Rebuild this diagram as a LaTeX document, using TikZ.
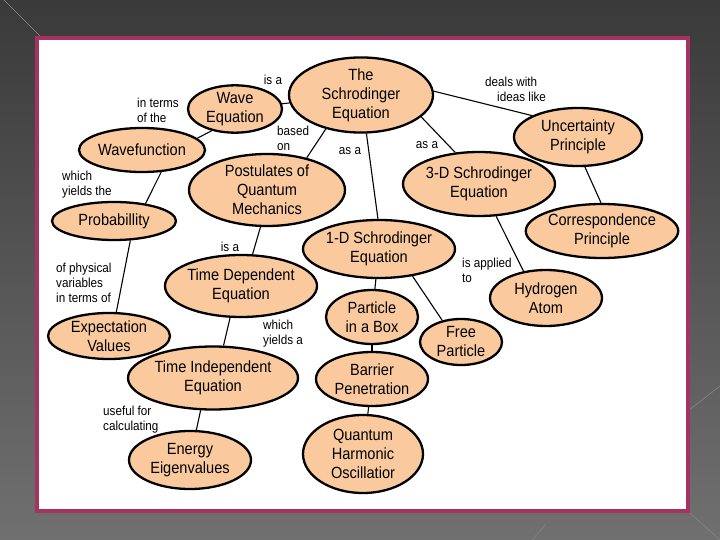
\documentclass[tikz,border=0pt]{standalone}
\usepackage{fontspec}
\setmainfont{Liberation Sans}[FakeStretch=0.9]
\usetikzlibrary{shapes.geometric}
\definecolor{peach}{RGB}{250,202,158}
\definecolor{framec}{RGB}{168,50,95}
\definecolor{bgtop}{RGB}{58,58,58}
\definecolor{bgbot}{RGB}{112,112,112}
\definecolor{deco}{RGB}{135,135,135}
\begin{document}
\begin{tikzpicture}[x=1pt,y=-1pt,
  concept/.style={ellipse, draw=black, line width=2.3pt, fill=peach, inner sep=0pt, align=center, font=\fontsize{16.2}{19}\selectfont},
  lbl/.style={font=\fontsize{13}{15.2}\selectfont, inner sep=0pt, align=left, anchor=west},
  link/.style={line width=1.1pt, black}]
% background
\shade[top color=bgtop, bottom color=bgbot] (0,0) rectangle (720,540);
\useasboundingbox (0,0) rectangle (720,540);
\draw[deco, line width=0.6pt] (2,-2) -- (40,36);
\draw[deco, line width=0.6pt] (690,513) -- (720,540);
\draw[deco, line width=0.6pt] (689,410) -- (720,386);
\draw[deco, line width=0.6pt] (532,540) -- (546,524);
\draw[framec, line width=4pt, fill=white] (37,38) rectangle (688,511);

% concepts
\node[concept, minimum width=144pt, minimum height=70pt] (se) at (361,95) {The\\Schrodinger\\Equation};
\node[concept, minimum width=94pt, minimum height=46pt] (we) at (235,109) {Wave\\Equation};
\node[concept, minimum width=126pt, minimum height=44pt] (wf) at (142,150) {Wavefunction};
\node[concept, minimum width=124pt, minimum height=38pt] (pr) at (114,221) {Probabillity};
\node[concept, minimum width=156pt, minimum height=72pt] (pq) at (267,190) {Postulates of\\Quantum\\Mechanics};
\node[concept, minimum width=152pt, minimum height=62pt] (td) at (241,286) {Time Dependent\\Equation};
\node[concept, minimum width=122pt, minimum height=46pt] (ev) at (109,336) {Expectation\\Values};
\node[concept, minimum width=170pt, minimum height=63pt] (ti) at (213,378) {Time Independent\\Equation};
\node[concept, minimum width=122pt, minimum height=58pt] (ee) at (190,460) {Energy\\Eigenvalues};
\node[concept, minimum width=152pt, minimum height=58pt] (od) at (379,249) {1-D Schrodinger\\Equation};
\node[concept, minimum width=92pt, minimum height=54pt] (pb) at (372,317) {Particle\\in a Box};
\node[concept, minimum width=82pt, minimum height=46pt] (fp) at (461,342) {Free\\Particle};
\node[concept, minimum width=112pt, minimum height=54pt] (bp) at (372,379) {Barrier\\Penetration};
\node[concept, minimum width=120pt, minimum height=78pt] (qh) at (363,454) {Quantum\\Harmonic\\Oscillatior};
\node[concept, minimum width=152pt, minimum height=64pt] (tdd) at (479,184) {3-D Schrodinger\\Equation};
\node[concept, minimum width=128pt, minimum height=58pt] (up) at (578,137) {Uncertainty\\Principle};
\node[concept, minimum width=148pt, minimum height=54pt] (cp) at (602,231) {Correspondence\\Principle};
\node[concept, minimum width=112pt, minimum height=56pt] (ha) at (546,298) {Hydrogen\\Atom};

% links
\draw[link] (se) -- (we);
\draw[link] (we.223) -- (wf.12);
\draw[link] (se.224) -- (pq.39);
\draw[link] (se.278) -- (od.92);
\draw[link] (se.340) -- (tdd.127);
\draw[link] (se.3) -- (up.155);
\draw[link] (up.283) -- (cp.92);
\draw[link] (tdd.298) -- (ha.130);
\draw[link] (wf.311) -- (pr.29);
\draw[link] (pr.310) -- (ev.73);
\draw[link] (pq.260) -- (td.70);
\draw[link] (td.251) -- (ti.72);
\draw[link] (ti.249) -- (ee.78);
\draw[link] (od) -- (pb);
\draw[link] (od.321) -- (fp.131);
\draw[link] (pb) -- (bp);
\draw[link] (bp) -- (qh);

% labels
\node[lbl, anchor=center] (l1) at (273,80) {is a};
\node[lbl] (l2) at (137,110.5) {in terms\\of the};
\node[lbl] (l3) at (277,138.5) {based\\on};
\node[lbl, anchor=center] (l4) at (350,151) {as a};
\node[lbl, anchor=center] (l5) at (427,145) {as a};
\node[lbl] (l6) at (485,89.5) {deals with\\\hspace*{12pt}ideas like};
\node[lbl] (l7) at (62,185) {which\\yields the};
\node[lbl, anchor=center] (l8) at (230,247) {is a};
\node[lbl] (l9) at (56,283) {of physical\\variables\\in terms of};
\node[lbl] (l10) at (263,333.5) {which\\yields a};
\node[lbl] (l11) at (462,270.5) {is applied\\to};
\node[lbl] (l12) at (103,419.5) {useful for\\calculating};
\end{tikzpicture}
\end{document}
